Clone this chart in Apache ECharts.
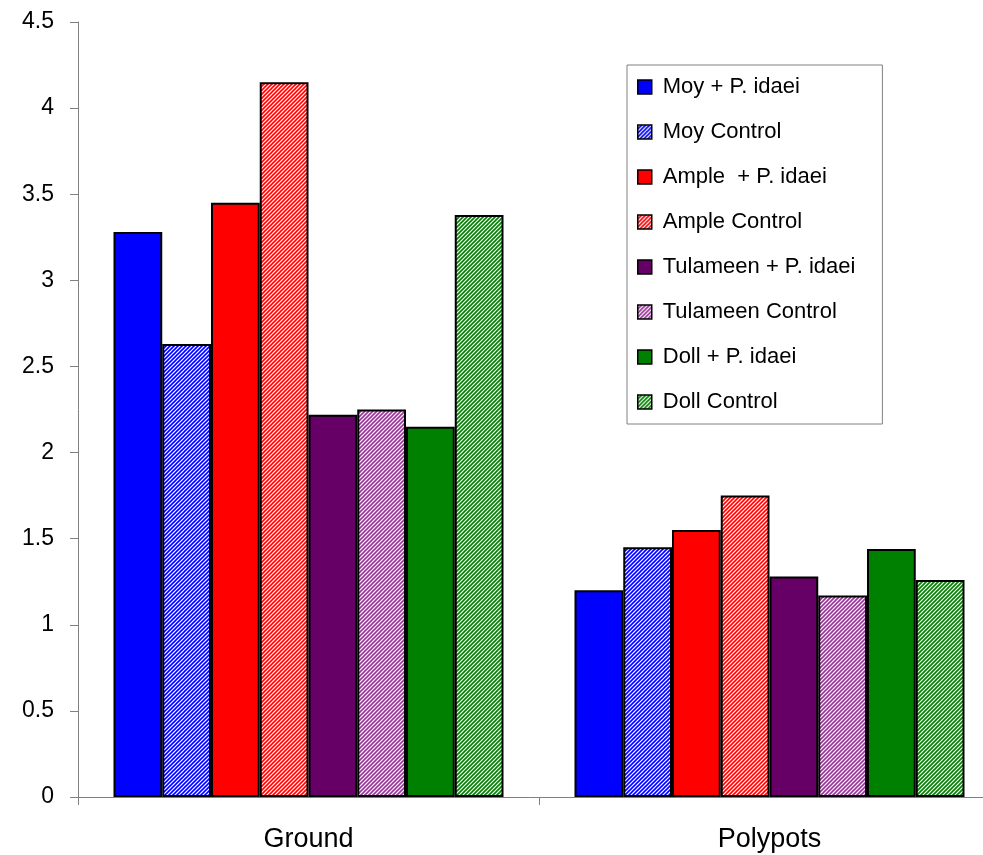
<!DOCTYPE html>
<html>
<head>
<meta charset="utf-8">
<script src="https://cdn.jsdelivr.net/npm/echarts@6/dist/echarts.min.js"></script>
<style>
  html, body { margin: 0; padding: 0; background: #fff; }
  #chart { width: 983px; height: 855px; }
</style>
</head>
<body>
<div id="chart"></div>
<script>
// Categories (growing systems)
const categories = ['Ground', 'Polypots'];

// Series names and values per category
const seriesNames = [
  'Moy + P. idaei', 'Moy Control',
  'Ample  + P. idaei', 'Ample Control',
  'Tulameen + P. idaei', 'Tulameen Control',
  'Doll + P. idaei', 'Doll Control'
];
const moyInfected = [3.28, 1.20];
const moyControl = [2.63, 1.45];
const ampleInfected = [3.45, 1.55];
const ampleControl = [4.15, 1.75];
const tulameenInfected = [2.22, 1.28];
const tulameenControl = [2.25, 1.17];
const dollInfected = [2.15, 1.44];
const dollControl = [3.38, 1.26];

// Y-axis tick settings
const yMin = 0, yMax = 4.5, yStep = 0.5;

const seriesValues = [
  moyInfected, moyControl, ampleInfected, ampleControl,
  tulameenInfected, tulameenControl, dollInfected, dollControl
];
const baseColors = ['#0000ff', '#0000ff', '#ff0000', '#ff0000', '#660066', '#993399', '#008000', '#008000'];
const hatched = [false, true, false, true, false, true, false, true];

// Diagonal stripe fill for the control series
function stripes(color) {
  const c = document.createElement('canvas');
  const s = 4;
  c.width = s; c.height = s;
  const g = c.getContext('2d');
  g.fillStyle = '#ffffff';
  g.fillRect(0, 0, s, s);
  g.strokeStyle = color;
  g.lineWidth = 1.6;
  g.beginPath();
  g.moveTo(-1, s + 1); g.lineTo(s + 1, -1);
  g.moveTo(-1, 1); g.lineTo(1, -1);
  g.moveTo(s - 1, s + 1); g.lineTo(s + 1, s - 1);
  g.stroke();
  return c;
}

const chart = echarts.init(document.getElementById('chart'), null, { renderer: 'canvas' });

const series = seriesNames.map((name, i) => ({
  name: name,
  type: 'bar',
  data: seriesValues[i],
  barGap: '0%',
  barCategoryGap: '15.4%',
  itemStyle: {
    color: hatched[i] ? { image: stripes(baseColors[i]), repeat: 'repeat' } : baseColors[i],
    borderColor: '#000',
    borderWidth: 2
  },
  emphasis: { disabled: true }
}));

const font = 'Liberation Sans, Arial, sans-serif';

chart.setOption({
  animation: false,
  backgroundColor: '#ffffff',
  textStyle: { fontFamily: font },
  // the plot area runs past the right edge of the canvas
  grid: { left: 78, width: 922, top: 22, bottom: 58, containLabel: false, outerBoundsMode: 'none' },
  legend: {
    orient: 'vertical',
    left: 627,
    top: 65,
    padding: [11, 27, 11, 10],
    itemGap: 23,
    itemWidth: 14,
    itemHeight: 14,
    icon: 'rect',
    backgroundColor: '#fff',
    borderColor: '#808080',
    borderWidth: 1,
    selectedMode: false,
    textStyle: { fontSize: 22, color: '#000', fontFamily: font, padding: [0, 0, 0, 6] },
    itemStyle: { borderColor: '#000', borderWidth: 1.5 },
    data: seriesNames
  },
  xAxis: {
    type: 'category',
    data: categories,
    axisLine: { lineStyle: { color: '#808080', width: 1 } },
    axisTick: { show: true, length: 8, lineStyle: { color: '#808080' } },
    axisLabel: { fontSize: 27, color: '#000', margin: 29, fontFamily: font },
    splitLine: { show: false }
  },
  yAxis: {
    type: 'value',
    min: yMin,
    max: yMax,
    interval: yStep,
    axisLine: { show: true, lineStyle: { color: '#808080', width: 1 } },
    axisTick: { show: true, length: 8, lineStyle: { color: '#808080' } },
    axisLabel: { fontSize: 23, color: '#000', margin: 24, fontFamily: font },
    splitLine: { show: false }
  },
  series: series
});
</script>
</body>
</html>
